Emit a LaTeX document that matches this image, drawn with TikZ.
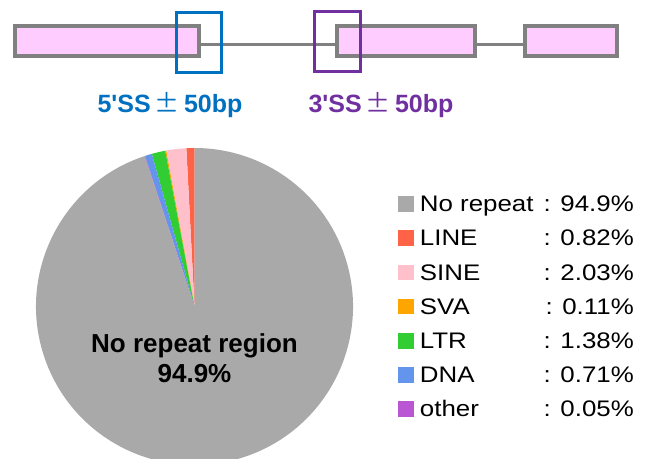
\documentclass[tikz,border=0pt]{standalone}
\usepackage{fontspec}
\setmainfont{Liberation Sans}
\newfontfamily\cjkfont{Noto Sans CJK JP}
\newfontfamily\legendfont[FakeStretch=1.15]{Liberation Sans}

\definecolor{exonfill}{HTML}{FFCCFF}
\definecolor{exonline}{HTML}{808080}
\definecolor{ssfive}{HTML}{0070C0}
\definecolor{ssthree}{HTML}{7030A0}
\definecolor{norepC}{HTML}{A9A9A9}
\definecolor{lineC}{HTML}{FF6347}
\definecolor{sineC}{HTML}{FFC0CB}
\definecolor{svaC}{HTML}{FFA500}
\definecolor{ltrC}{HTML}{32CD32}
\definecolor{dnaC}{HTML}{6495ED}
\definecolor{otherC}{HTML}{BA55D3}

\begin{document}
\begin{tikzpicture}[x=1pt,y=1pt,
  exon/.style={draw=exonline,fill=exonfill,line width=4pt,inner sep=0pt,minimum height=30pt},
  ssbox/.style={line width=3pt},
  sslabel/.style={anchor=base,inner sep=0pt,font=\fontsize{25}{30}\selectfont\bfseries},
  key/.style={minimum size=15.5pt,inner sep=0pt},
  keytext/.style={inner sep=0pt,font=\fontsize{22.5}{27}\legendfont}]
\useasboundingbox (0,0) rectangle (650,458);
% exons
\node[exon,minimum width=184pt] (ex1) at (106.7,416.7) {};
\node[exon,minimum width=138.3pt] (ex2) at (406.2,416.7) {};
\node[exon,minimum width=91.7pt] (ex3) at (571.2,416.7) {};
% introns
\draw[exonline,line width=3pt] ([yshift=-3pt]ex1.east) -- ([yshift=-3pt]ex2.west);
\draw[exonline,line width=3pt] ([yshift=-3pt]ex2.east) -- ([yshift=-3pt]ex3.west);
% splice site windows
\draw[ssfive,ssbox] (176.5,385.5) rectangle (221.5,445.8);
\draw[ssthree,ssbox] (314.2,386.5) rectangle (360.2,446);
\node[sslabel,ssfive] (lab5) at (170,345.5) {5\textquotesingle SS\,{\cjkfont\mdseries ±}\,50bp};
\node[sslabel,ssthree] (lab3) at (381,345.5) {3\textquotesingle SS\,{\cjkfont\mdseries ±}\,50bp};
% pie, counterclockwise from the top
\coordinate (piec) at (194.5,151.5);
\def\angA{90}
\foreach \p/\c in {0.82/lineC, 2.03/sineC, 0.11/svaC, 1.38/ltrC, 0.71/dnaC, 0.05/otherC, 94.9/norepC} {
  \pgfmathsetmacro\angB{\angA+3.6*\p}
  \fill[\c] (piec) -- ++(\angA:158.5) arc[start angle=\angA, end angle=\angB, radius=158.5] -- cycle;
  \global\let\angA\angB
}
\node[inner sep=0pt,align=center,font=\fontsize{26}{30.3}\selectfont\bfseries] (pielabel) at (194.5,99.5) {No repeat region\\94.9\%};
% legend
\foreach \lab/\val/\col [count=\i from 0] in {No repeat/94.9/norepC, LINE/0.82/lineC, SINE/2.03/sineC, SVA/0.11/svaC, LTR/1.38/ltrC, DNA/0.71/dnaC, other/0.05/otherC} {
  \node[key,fill=\col] (key\i) at (406,{254-34.2*\i}) {};
  \node[keytext,anchor=base west] (name\i) at ([xshift=5.8pt,yshift=-7.7pt]key\i.east) {\lab};
  \node[keytext,anchor=base east] (val\i) at (634,{246.3-34.2*\i}) {: \val\%};
}
\end{tikzpicture}
\end{document}
